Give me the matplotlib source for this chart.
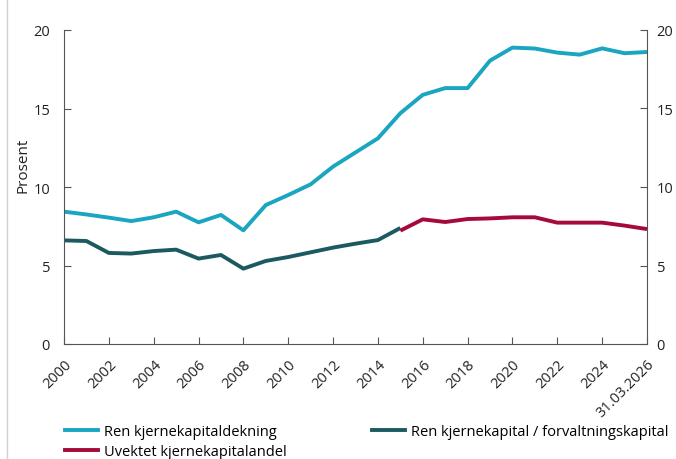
import matplotlib
matplotlib.use("Agg")
import matplotlib.pyplot as plt
from matplotlib.lines import Line2D

plt.rcParams['font.family'] = ['Open Sans', 'DejaVu Sans']

# x categories: yearly, last point is 31.03.2026
periods = [str(y) for y in range(2000, 2026)] + ["31.03.2026"]

# Ren kjernekapitaldekning
ren_dekning = [8.43, 8.25, 8.05, 7.83, 8.07, 8.43, 7.75, 8.22, 7.24, 8.85,
               9.49, 10.17, 11.3, 12.2, 13.1, 14.7, 15.87, 16.3, 16.3, 18.05,
               18.88, 18.82, 18.56, 18.43, 18.83, 18.52, 18.6]

# Ren kjernekapital / forvaltningskapital (2000-2015)
ren_forv = [6.6, 6.56, 5.8, 5.76, 5.92, 6.01, 5.44, 5.67, 4.8, 5.29,
            5.54, 5.84, 6.14, 6.39, 6.62, 7.39]

# Uvektet kjernekapitalandel (2015-)
uvektet = [7.22, 7.94, 7.77, 7.96, 8.0, 8.07, 8.07, 7.73, 7.73, 7.73,
           7.54, 7.32]

c_light = "#1aa5c0"
c_dark = "#1b5a60"
c_red = "#a50a3a"

fig = plt.figure(figsize=(6.76, 4.6), dpi=100)
ax = fig.add_axes([64 / 676, 1 - 345 / 460, (647 - 64) / 676, (345 - 31) / 460])

x = list(range(len(periods)))
lw = 2.8
ax.plot(x, ren_dekning, color=c_light, lw=lw, solid_capstyle='butt')
ax.plot(x[:len(ren_forv)], ren_forv, color=c_dark, lw=lw, solid_capstyle='butt')
start = len(ren_forv) - 1
ax.plot(x[start:start + len(uvektet)], uvektet, color=c_red, lw=lw, solid_capstyle='butt')

ax.set_xlim(0, len(periods) - 1)
ax.set_ylim(0, 20)
ax.set_yticks([0, 5, 10, 15, 20])

# every other year gets a tick, plus the last date
ticks = sorted(set([i for i in x if i % 2 == 0] + [len(periods) - 1]))
ax.set_xticks(ticks)
ax.set_xticklabels([periods[i] for i in ticks], rotation=45, ha="right",
                   rotation_mode="anchor")

ax2 = ax.twinx()
ax2.set_ylim(0, 20)
ax2.set_yticks([0, 5, 10, 15, 20])

for a in (ax, ax2):
    a.spines['top'].set_visible(False)
    for s in a.spines.values():
        s.set_color("#555555")
        s.set_linewidth(0.8)
    a.tick_params(direction='in', length=5, width=0.8, color="#555555",
                  labelsize=10.5, labelcolor="#222222", pad=10)
ax2.spines['left'].set_visible(False)
ax2.spines['bottom'].set_visible(False)
ax.spines['right'].set_visible(False)
ax.tick_params(axis='x', pad=9)
ax2.tick_params(axis='y', pad=7)

ax.set_ylabel("Prosent", fontsize=11, color="#222222")
ax.yaxis.set_label_coords(-0.058, 0.573)

# light gray frame line on left edge
fig.add_artist(Line2D([7 / 676, 7 / 676], [0, 1], color="#d0d0d0", lw=1))

handles = [Line2D([], [], color=c_light, lw=lw),
           Line2D([], [], color=c_red, lw=lw),
           Line2D([], [], color=c_dark, lw=lw)]
labels = ["Ren kjernekapitaldekning", "Uvektet kjernekapitalandel",
          "Ren kjernekapital / forvaltningskapital"]
fig.legend(handles, labels, ncol=2, loc="upper left",
           bbox_to_anchor=(65 / 676, 1 - 425 / 460), frameon=False,
           fontsize=10.5, handlelength=2.25, handletextpad=0.45,
           columnspacing=5.8, labelspacing=0.35, borderpad=0,
           borderaxespad=0)

fig.savefig("out.png", dpi=100)
